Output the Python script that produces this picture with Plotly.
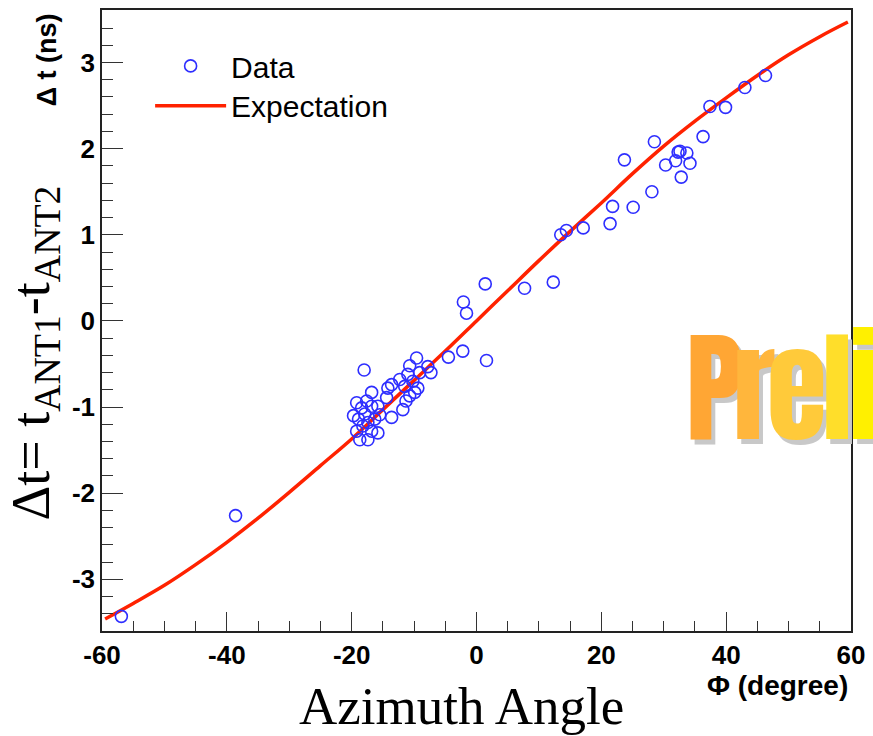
import plotly.graph_objects as go

# ---------------- data ----------------
phi_data = [-56.9, -38.6,
            1.4, -2.1, -1.6, 7.7, 12.3, -2.2, -4.5, 1.6,
            13.5, 14.4, 17.1, 21.4, 21.8, 25.1, 28.1, 23.7, 28.5, 30.3, 31.9, 32.3, 32.6,
            33.7, 34.2, 32.8, 36.3, 37.4, 39.9, 43.0, 46.3,
            -9.6, -7.8, -7.3, -18.0, -10.7, -9.1, -11.0, -10.2, -12.3, -13.6, -14.2, -9.4,
            -11.5, -9.9, -10.7, -16.8, -11.3, -11.8, -14.4, -15.8, -15.5, -13.6, -19.2,
            -17.6, -18.4, -16.8, -19.7, -17.9, -16.3, -18.9, -17.4, -19.2, -15.8, -18.7,
            -17.4, -18.2, -16.8]
dt_data = [-3.43, -2.26,
           0.43, 0.22, 0.09, 0.38, 0.45, -0.35, -0.42, -0.46,
           1.00, 1.05, 1.08, 1.13, 1.33, 1.32, 1.50, 1.87, 2.08, 1.81, 1.86, 1.96, 1.97,
           1.95, 1.83, 1.67, 2.14, 2.49, 2.48, 2.71, 2.85,
           -0.43, -0.53, -0.60, -0.57, -0.52, -0.60, -0.62, -0.70, -0.68, -0.74, -0.78, -0.78,
           -0.76, -0.83, -0.87, -0.83, -0.93, -1.03, -0.89, -0.99, -1.09, -1.12, -0.95,
           -0.93, -1.01, -0.99, -1.10, -1.08, -1.14, -1.14, -1.18, -1.28, -1.30, -1.38,
           -1.38, -1.22, -1.28]

phi_exp = [-59.5, -55, -50, -45, -40, -35, -30, -25, -20, -15, -10, -5, 0,
           5, 10, 15, 20, 25, 30, 35, 40, 45, 50, 55, 59.5]
dt_exp = [-3.46, -3.28, -3.07, -2.83, -2.57, -2.29, -1.99, -1.68, -1.37, -1.03, -0.69, -0.35, 0.0,
          0.35, 0.70, 1.04, 1.37, 1.71, 2.03, 2.32, 2.59, 2.85, 3.09, 3.30, 3.47]

x_ticks = [-60, -40, -20, 0, 20, 40, 60]
x_tick_labels = ["-60", "-40", "-20", "0", "20", "40", "60"]
y_ticks = [-3, -2, -1, 0, 1, 2, 3]
y_tick_labels = ["-3", "-2", "-1", "0", "1", "2", "3"]
watermark_letters = ["P", "r", "e", "l", "i"]
watermark_colors = ["#FFA634", "#FFB63C", "#FFCA3A", "#FFDE2A", "#FFF000"]

# --------------- figure ---------------
W, H = 873, 736
ML, MR, MT, MB = 102, 16, 8, 105
PW = W - ML - MR
PH = H - MT - MB

def px(xp):
    return (xp - ML) / PW

def py(yp):
    return 1 - (yp - MT) / PH

fig = go.Figure()
fig.add_trace(go.Scatter(
    x=phi_exp, y=dt_exp, mode="lines", name="Expectation",
    line=dict(color="#FF2200", width=3.5, shape="spline"),
    legend="legend2"))
fig.add_trace(go.Scatter(
    x=phi_data, y=dt_data, mode="markers", name="Data",
    marker=dict(symbol="circle-open", size=12, color="#2E2EFF", line=dict(width=1.6)),
    legend="legend"))

axis_common = dict(showgrid=False, zeroline=False, showline=True, linecolor="#222",
                   linewidth=1.5, mirror=True, ticks="inside", tickcolor="#333",
                   tickwidth=1.3, tickfont=dict(family="Liberation Sans", size=26,
                                                color="black", weight="bold"))
fig.update_xaxes(range=[-60, 60], tickvals=x_ticks, ticktext=x_tick_labels, ticklen=19,
                 minor=dict(dtick=5, ticklen=10, ticks="inside", tickcolor="#333", tickwidth=1.3),
                 **axis_common)
fig.update_yaxes(range=[-3.6, 3.61], tickvals=y_ticks, ticktext=y_tick_labels, ticklen=21,
                 minor=dict(dtick=0.2, ticklen=11, ticks="inside", tickcolor="#333", tickwidth=1.3),
                 **axis_common)

leg_font = dict(family="Liberation Sans", size=30, color="black")
fig.update_layout(
    width=W, height=H,
    margin=dict(l=ML, r=MR, t=MT, b=MB),
    plot_bgcolor="white", paper_bgcolor="white",
    showlegend=True,
    legend=dict(x=px(150.5), y=py(38), xanchor="left", yanchor="top", font=leg_font,
                itemwidth=71, bgcolor="rgba(0,0,0,0)"),
    legend2=dict(x=px(150.5), y=py(78), xanchor="left", yanchor="top", font=leg_font,
                 itemwidth=71, bgcolor="rgba(0,0,0,0)"),
)

ann = []
ann.append(dict(text="Φ (degree)", x=px(856), y=py(686), xref="paper", yref="paper",
                xanchor="right", yanchor="middle", showarrow=False,
                font=dict(family="Liberation Sans", size=28, color="black", weight="bold")))
ann.append(dict(text="Δ t (ns)", x=px(46), y=py(58), xref="paper", yref="paper",
                xanchor="center", yanchor="middle", textangle=-90, showarrow=False,
                font=dict(family="Liberation Sans", size=27, color="black", weight="bold")))
ann.append(dict(text="Azimuth Angle", x=px(464), y=py(706), xref="paper", yref="paper",
                xanchor="center", yanchor="middle", showarrow=False,
                font=dict(family="Liberation Serif", size=53, color="black")))
ann.append(dict(text="Δt= t<sub>ANT1</sub>-t<sub>ANT2</sub>", x=px(34), y=py(352),
                xref="paper", yref="paper", xanchor="center", yanchor="middle",
                textangle=-90, showarrow=False,
                font=dict(family="Liberation Serif", size=54, color="black")))

letter_centers = [720, 759, 803, 843, 870]
for ch, col, cx in zip(watermark_letters, watermark_colors, letter_centers):
    ann.append(dict(text=ch, x=px(cx), y=py(386), xref="paper", yref="paper",
                    xanchor="center", yanchor="middle", showarrow=False,
                    font=dict(family="Anton, Oswald, League Gothic, Liberation Sans Narrow, Liberation Sans",
                              size=122, color=col, weight="normal",
                              shadow="4px 5px 0px #c8c8c8")))

fig.update_layout(annotations=ann)
fig.write_html("out.html")
